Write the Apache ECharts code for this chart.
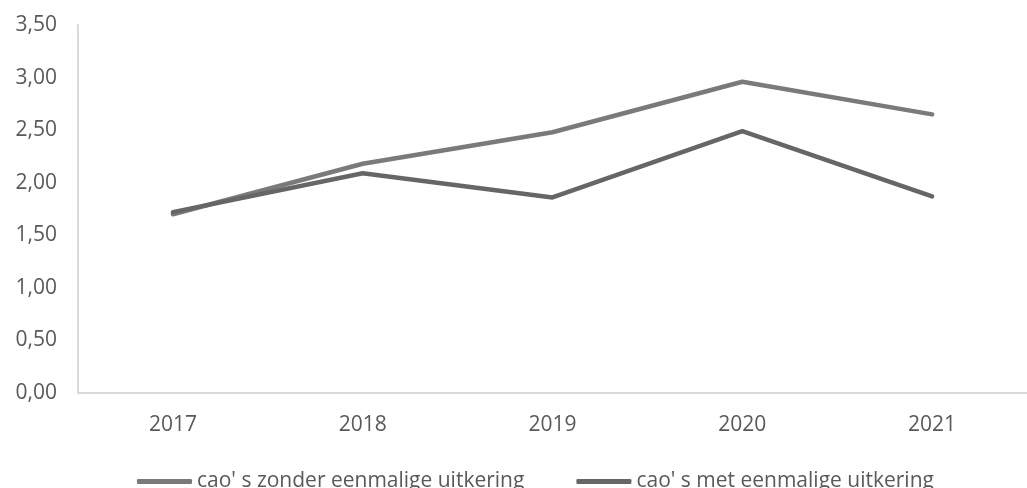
<!DOCTYPE html>
<html>
<head>
<meta charset="utf-8">
<script src="https://cdn.jsdelivr.net/npm/echarts@6/dist/echarts.min.js"></script>
<style>
 html, body { margin: 0; padding: 0; background: #fff; }
 #chart { width: 1027px; height: 488px; }
</style>
</head>
<body>
<div id="chart"></div>
<script>
const years = ['2017', '2018', '2019', '2020', '2021']
const zonderEenmalig = [1.70, 2.18, 2.48, 2.96, 2.65]
const metEenmalig = [1.72, 2.09, 1.86, 2.49, 1.87]
const seriesNames = ["cao' s zonder eenmalige uitkering", "cao' s met eenmalige uitkering"]

const font = '"Open Sans", sans-serif'
const textColor = '#595959'

const chart = echarts.init(document.getElementById('chart'))
chart.setOption({
 backgroundColor: '#fff',
 animation: false,
 grid: { left: 78, top: 25, width: 961, height: 368 },
 legend: {
 left: 132,
 top: 466,
 itemWidth: 55,
 itemHeight: 5,
 itemGap: 52,
 icon: 'roundRect',
 textStyle: { color: textColor, fontSize: 21, fontFamily: font },
 data: seriesNames,
 },
 xAxis: {
 type: 'category',
 data: years,
 axisLine: { lineStyle: { color: '#d9d9d9', width: 2 } },
 axisTick: { show: false },
 axisLabel: { color: textColor, fontSize: 21, fontFamily: font, margin: 22 },
 },
 yAxis: {
 type: 'value',
 min: 0,
 max: 3.5,
 interval: 0.5,
 splitLine: { show: false },
 axisLine: { show: true, lineStyle: { color: '#d9d9d9', width: 2 } },
 axisTick: { show: false },
 axisLabel: {
 color: textColor, fontSize: 21, fontFamily: font, margin: 21,
 formatter: v => v.toFixed(2).replace('.', ','),
 },
 },
 series: [
 {
 name: seriesNames[0],
 type: 'line',
 data: zonderEenmalig,
 symbol: 'none',
 lineStyle: { color: '#7a7a7a', width: 4.5, cap: 'round', join: 'round' },
 itemStyle: { color: '#7a7a7a' },
 },
 {
 name: seriesNames[1],
 type: 'line',
 data: metEenmalig,
 symbol: 'none',
 lineStyle: { color: '#666666', width: 4.5, cap: 'round', join: 'round' },
 itemStyle: { color: '#666666' },
 },
 ],
})
</script>
</body>
</html>
